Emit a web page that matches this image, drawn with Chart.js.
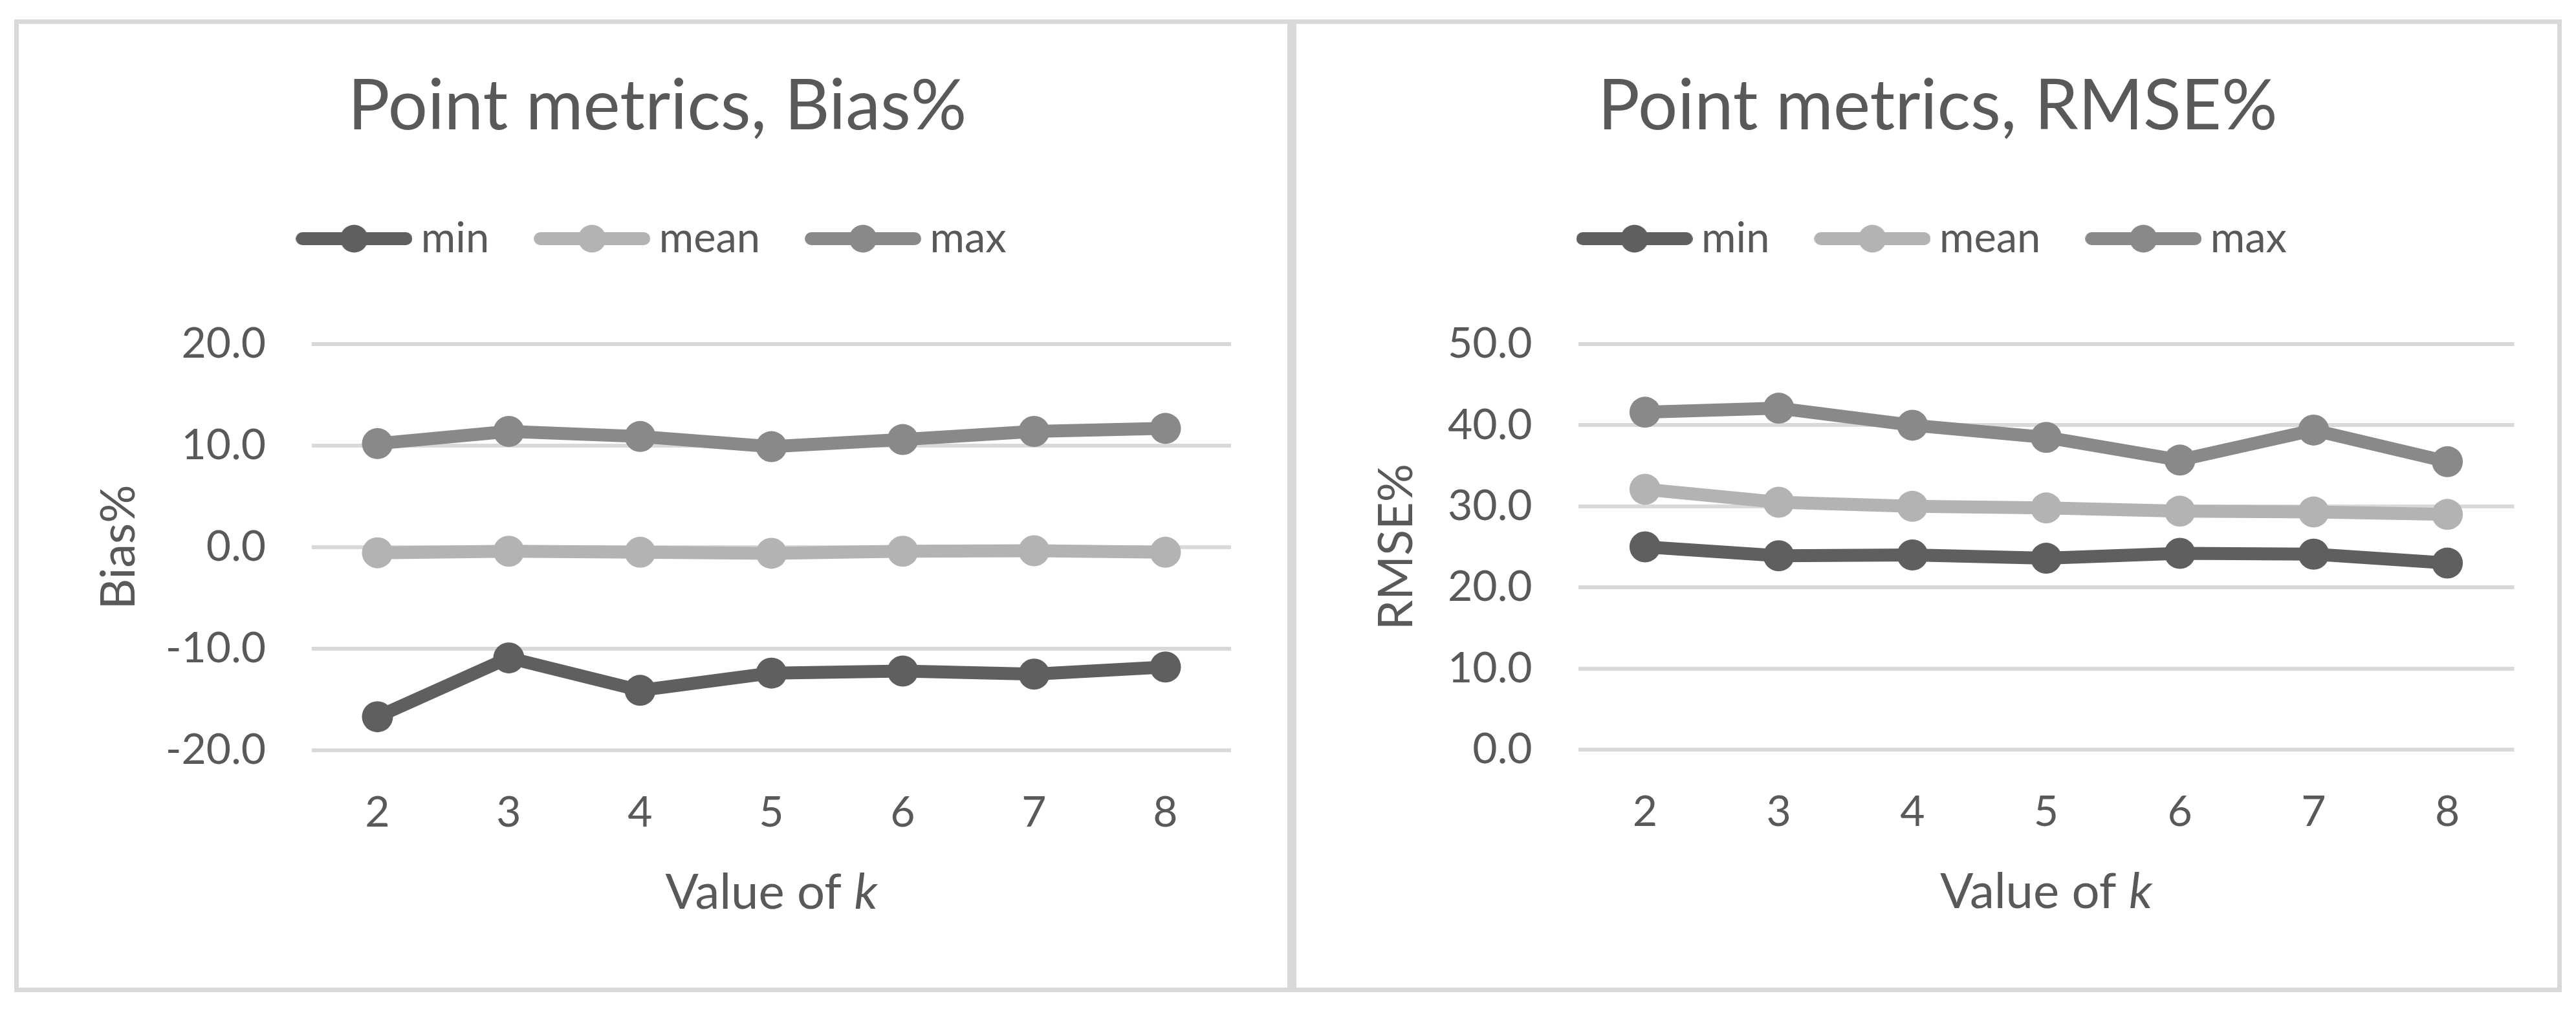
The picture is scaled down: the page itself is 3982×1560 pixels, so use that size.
<!DOCTYPE html>
<html>
<head>
<meta charset="utf-8">
<script src="https://cdn.jsdelivr.net/npm/chart.js@4.4.1/dist/chart.umd.min.js"></script>
<style>
  html, body { margin: 0; background: #fff; }
  .panel { position: absolute; top: 30px; height: 1504px; border: 7px solid #d9d9d9; box-sizing: border-box; }
  #left { left: 22px; width: 1975px; }
  #right { left: 1997px; width: 1963px; }
  canvas { display: block; }
</style>
</head>
<body>
<div class="panel" id="left"><canvas id="bias" width="1961" height="1490"></canvas></div>
<div class="panel" id="right"><canvas id="rmse" width="1949" height="1490"></canvas></div>
<script>
// values
const kValues = ['2', '3', '4', '5', '6', '7', '8'];
const seriesNames = ['min', 'mean', 'max'];
const seriesColors = ['#5f5f5f', '#b3b3b3', '#898989'];

const biasMin = [-16.7, -10.9, -14.1, -12.4, -12.2, -12.5, -11.8];
const biasMean = [-0.55, -0.4, -0.5, -0.6, -0.4, -0.35, -0.5];
const biasMax = [10.2, 11.4, 10.9, 9.9, 10.6, 11.4, 11.7];

const rmseMin = [25.0, 23.9, 24.0, 23.6, 24.2, 24.1, 23.0];
const rmseMean = [32.1, 30.5, 30.0, 29.8, 29.4, 29.3, 29.0];
const rmseMax = [41.6, 42.1, 40.0, 38.5, 35.7, 39.4, 35.5];

const textColor = '#595959';
Chart.defaults.font.family = 'Lato';
Chart.defaults.color = textColor;

// legend symbol: thick line with a dot in the middle, like Excel draws it
function legendSymbol(color) {
  const c = document.createElement('canvas');
  c.width = 180;
  c.height = 48;
  const g = c.getContext('2d');
  g.strokeStyle = color;
  g.lineWidth = 20;
  g.lineCap = 'round';
  g.beginPath();
  g.moveTo(10, 24);
  g.lineTo(170, 24);
  g.stroke();
  g.fillStyle = color;
  g.beginPath();
  g.arc(90, 24, 21.5, 0, Math.PI * 2);
  g.fill();
  return c;
}
const symbols = seriesColors.map(legendSymbol);

// extra room under the legend
const legendGap = {
  id: 'legendGap',
  afterInit(chart) {
    const fit = chart.legend.fit;
    chart.legend.fit = function () {
      fit.call(this);
      this.height += 120.5;
    };
  }
};

// x axis title with an italic k
const kTitle = {
  id: 'kTitle',
  afterDraw(chart) {
    const { ctx, chartArea } = chart;
    const a = 'Value of ';
    const b = 'k';
    ctx.save();
    ctx.fillStyle = textColor;
    ctx.textBaseline = 'alphabetic';
    ctx.textAlign = 'left';
    ctx.font = '76px Lato';
    const wa = ctx.measureText(a).width;
    ctx.font = 'italic 76px Lato';
    const wb = ctx.measureText(b).width;
    const x = (chartArea.left + chartArea.right) / 2 - (wa + wb) / 2;
    const y = chartArea.bottom + 245;
    ctx.font = '76px Lato';
    ctx.fillText(a, x, y);
    ctx.font = 'italic 76px Lato';
    ctx.fillText(b, x + wa, y);
    ctx.restore();
  }
};

function makeChart(id, title, yTitle, series, yMin, yMax, layout) {
  const datasets = series.map((values, i) => ({
    label: seriesNames[i],
    data: values,
    borderColor: seriesColors[i],
    backgroundColor: seriesColors[i],
    borderWidth: 20,
    borderJoinStyle: 'round',
    pointRadius: 24,
    pointHoverRadius: 24,
    pointBorderWidth: 0,
    pointBackgroundColor: seriesColors[i],
    tension: 0
  }));

  return new Chart(document.getElementById(id), {
    type: 'line',
    data: { labels: kValues, datasets: datasets },
    plugins: [legendGap, kTitle],
    options: {
      responsive: false,
      animation: false,
      devicePixelRatio: 1,
      layout: { padding: { left: layout.left, right: layout.right, top: 0, bottom: 0 } },
      plugins: {
        title: {
          display: true,
          text: title,
          color: textColor,
          font: { size: 108, weight: 'normal', lineHeight: 1 },
          padding: { top: 74, bottom: 29.5 }
        },
        legend: {
          position: 'top',
          labels: {
            usePointStyle: true,
            pointStyleWidth: 142,
            padding: 88,
            color: textColor,
            font: { size: 65 },
            generateLabels: (chart) =>
              Chart.defaults.plugins.legend.labels.generateLabels(chart).map((item, i) => ({ ...item, pointStyle: symbols[i] }))
          }
        },
        tooltip: { enabled: false }
      },
      scales: {
        x: {
          offset: true,
          grid: { display: false, drawTicks: false },
          border: { display: false },
          ticks: { font: { size: 66 }, padding: 57, color: textColor },
          afterFit: (scale) => { scale.height = layout.xHeight; }
        },
        y: {
          min: yMin,
          max: yMax,
          grid: { color: '#d9d9d9', lineWidth: 6, drawTicks: false },
          border: { display: false },
          ticks: {
            stepSize: 10,
            padding: 71,
            color: textColor,
            font: { size: 66 },
            callback: (v) => Number(v).toFixed(1)
          },
          title: {
            display: true,
            text: yTitle,
            color: textColor,
            font: { size: 74, lineHeight: 1 },
            padding: { top: 18, bottom: 0 }
          },
          afterFit: (scale) => { scale.width = layout.yWidth; }
        }
      }
    }
  });
}

makeChart('bias', 'Point metrics, Bias%', 'Bias%', [biasMin, biasMean, biasMax], -20, 20,
  { left: 100, right: 87, yWidth: 353, xHeight: 367 });
makeChart('rmse', 'Point metrics, RMSE%', 'RMSE%', [rmseMin, rmseMean, rmseMax], 0, 50,
  { left: 100, right: 66.5, yWidth: 335.5, xHeight: 368 });
</script>
</body>
</html>
